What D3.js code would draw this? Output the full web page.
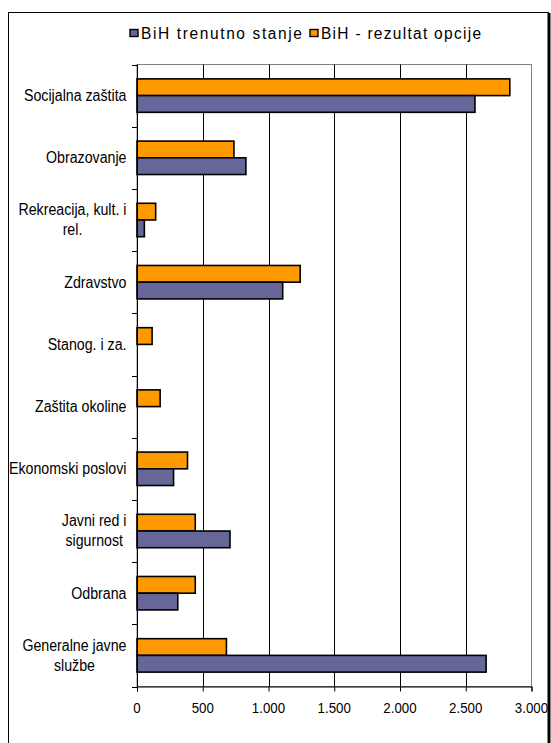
<!DOCTYPE html>
<html><head><meta charset="utf-8">
<script src="https://cdn.jsdelivr.net/npm/d3@7"></script>
<style>
html,body{margin:0;padding:0;background:#fff;}
svg{display:block;font-family:"Liberation Sans",Arial,sans-serif;}
</style></head>
<body>
<svg id="chart" width="551" height="743"></svg>
<script>
const categories = [
  ["Socijalna zaštita"],
  ["Obrazovanje"],
  ["Rekreacija, kult. i", "rel."],
  ["Zdravstvo"],
  ["Stanog. i za."],
  ["Zaštita okoline"],
  ["Ekonomski poslovi"],
  ["Javni red i", "sigurnost"],
  ["Odbrana"],
  ["Generalne javne", "službe"]
];
const seriesNames = ["BiH trenutno stanje", "BiH - rezultat opcije"];
const currentValues = [2570, 828, 56, 1108, 0, 0, 278, 707, 310, 2655];
const optionValues  = [2835, 737, 142, 1241, 115, 176, 384, 443, 443, 680];
const tickValues = [0, 500, 1000, 1500, 2000, 2500, 3000];
const tickLabels = ["0", "500", "1.000", "1.500", "2.000", "2.500", "3.000"];
const colors = {"BiH trenutno stanje": "#666699", "BiH - rezultat opcije": "#FF9900"};

const svg = d3.select("#chart");
const pLeft = 137, pRight = 531.5, pTop = 64.5, pBottom = 686.5;
const SY = 1.17; // vertical stretch of text seen in reference

const x = d3.scaleLinear().domain([0, 3000]).range([pLeft, pRight]);
const keys = categories.map(c => c.join(" "));
const y = d3.scaleBand().domain(keys).range([pTop, pBottom]).padding(0);
const inner = d3.scaleBand().domain(["BiH - rezultat opcije", "BiH trenutno stanje"])
  .range([0, y.bandwidth()]).paddingInner(0).paddingOuter(0.86);

function stretchedText(parent, str, tx, ty, size, anchor, sy) {
  return parent.append("text").text(str)
    .attr("transform", `translate(${tx},${ty}) scale(1,${sy || SY})`)
    .attr("font-size", size).attr("fill", "#000")
    .attr("text-anchor", anchor).attr("dy", "0.35em");
}

// outer frame
svg.append("rect").attr("x", 8.5).attr("y", 12.5).attr("width", 540).attr("height", 760)
  .attr("fill", "none").attr("stroke", "#000").attr("stroke-width", 1);
// plot area border (gray)
svg.append("rect").attr("x", pLeft).attr("y", pTop).attr("width", pRight - pLeft).attr("height", pBottom - pTop)
  .attr("fill", "none").attr("stroke", "#808080").attr("stroke-width", 1);

// gridlines
svg.append("g").selectAll("line").data(tickValues.filter(v => v > 0 && v < 3000)).join("line")
  .attr("x1", d => Math.round(x(d)) + 0.5).attr("x2", d => Math.round(x(d)) + 0.5)
  .attr("y1", pTop).attr("y2", pBottom).attr("stroke", "#000").attr("stroke-width", 1);

// bars
const data = [];
keys.forEach((k, i) => {
  data.push({cat: k, s: "BiH - rezultat opcije", v: optionValues[i]});
  data.push({cat: k, s: "BiH trenutno stanje", v: currentValues[i]});
});
svg.append("g").selectAll("rect").data(data.filter(d => d.v > 0)).join("rect")
  .attr("x", x(0))
  .attr("y", d => y(d.cat) + inner(d.s))
  .attr("width", d => x(d.v) - x(0))
  .attr("height", inner.bandwidth())
  .attr("fill", d => colors[d.s])
  .attr("stroke", "#000").attr("stroke-width", 1.6);

// x axis
const xAxis = d3.axisBottom(x).tickValues(tickValues).tickSize(5).tickFormat("");
const gx = svg.append("g").attr("transform", `translate(0,${pBottom})`).call(xAxis);
gx.select(".domain").attr("stroke", "#000");
gx.selectAll(".tick line").attr("stroke", "#000");
gx.selectAll(".tick text").remove();
tickValues.forEach((v, i) => stretchedText(svg, tickLabels[i], x(v), 707.5, 13.3, "middle"));

// y axis (ticks at band boundaries)
const gy = svg.append("g");
gy.append("line").attr("x1", pLeft + 0.5).attr("x2", pLeft + 0.5).attr("y1", pTop).attr("y2", pBottom)
  .attr("stroke", "#000");
const bounds = keys.map(k => y(k)).concat([pBottom]);
gy.selectAll("line.tk").data(bounds).join("line").attr("class", "tk")
  .attr("x1", pLeft - 5).attr("x2", pLeft).attr("y1", d => Math.round(d) + 0.5).attr("y2", d => Math.round(d) + 0.5)
  .attr("stroke", "#000");

// category labels
const labelRight = 126.5;
const labelSize = 14.2;
categories.forEach((lines, i) => {
  const cy = y(keys[i]) + y.bandwidth() / 2 - 0.5;
  const lh = 20;
  const g = svg.append("g");
  if (lines.length === 1) {
    stretchedText(g, lines[0], labelRight, cy, labelSize, "end");
  } else {
    const tmp = lines.map(t => g.append("text").text(t).attr("font-size", labelSize));
    const maxW = d3.max(tmp, t => t.node().getComputedTextLength());
    tmp.forEach(t => t.remove());
    lines.forEach((t, j) => stretchedText(g, t, labelRight - maxW / 2,
      cy + (j - (lines.length - 1) / 2) * lh, labelSize, "middle"));
  }
});

// legend
const lg = svg.append("g");
const legendX = [129.5, 309.5];
const legendW = [161, 160];
seriesNames.forEach((s, i) => {
  lg.append("rect").attr("x", legendX[i] + 0.5).attr("y", 29.5).attr("width", 8).attr("height", 7)
    .attr("fill", colors[s]).attr("stroke", "#000").attr("stroke-width", 1.4);
  stretchedText(lg, s, legendX[i] + 11.5, 33, 15.5, "start", 1.1)
    .attr("textLength", legendW[i]).attr("lengthAdjust", "spacing");
});

// right shadow edge of frame
svg.append("line").attr("x1", 549).attr("x2", 549).attr("y1", 13).attr("y2", 743)
  .attr("stroke", "#000").attr("stroke-width", 3);
</script>
</body></html>
